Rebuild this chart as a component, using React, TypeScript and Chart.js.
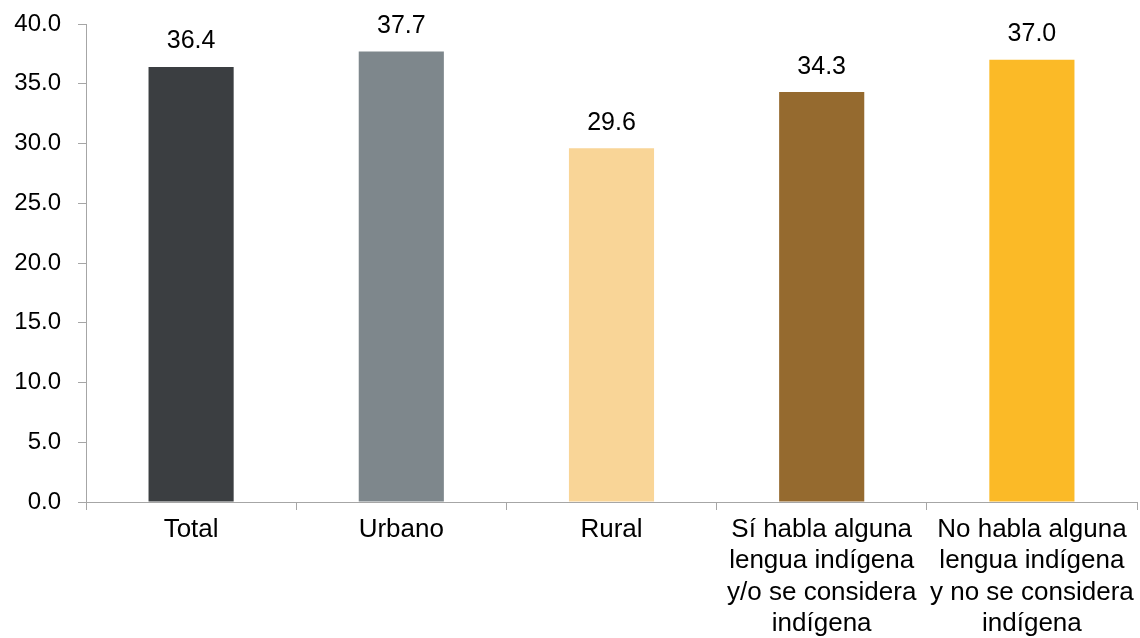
import React, { useEffect, useRef } from "react";
import { Chart, registerables } from "chart.js";

Chart.register(...registerables);

const categories: (string | string[])[] = [
  "Total",
  "Urbano",
  "Rural",
  ["Sí habla alguna", "lengua indígena", "y/o se considera", "indígena"],
  ["No habla alguna", "lengua indígena", "y no se considera", "indígena"],
];
const values = [36.4, 37.7, 29.6, 34.3, 37.0];
const barColors = ["#3B3E41", "#7E878C", "#F9D597", "#956A2F", "#FBBA27"];
const yTicks = [0, 5, 10, 15, 20, 25, 30, 35, 40];

const FONT = "'Liberation Sans', Arial, sans-serif";

const valueLabels = {
  id: "valueLabels",
  afterDatasetsDraw(chart: any) {
    const ctx = chart.ctx;
    const meta = chart.getDatasetMeta(0);
    ctx.save();
    ctx.font = `25px ${FONT}`;
    ctx.fillStyle = "#000";
    ctx.textAlign = "center";
    ctx.textBaseline = "bottom";
    meta.data.forEach((bar: any, i: number) => {
      ctx.fillText(values[i].toFixed(1), bar.x, bar.y - 13);
    });
    ctx.restore();
  },
};

export default function App() {
  const ref = useRef<HTMLCanvasElement>(null);
  useEffect(() => {
    document.body.style.margin = "0";
    const chart = new Chart(ref.current!, {
      type: "bar",
      data: {
        labels: categories,
        datasets: [
          {
            data: values,
            backgroundColor: barColors,
            barPercentage: 0.405,
            categoryPercentage: 1,
          },
        ],
      },
      options: {
        animation: false,
        responsive: false,
        layout: { padding: { top: 24, right: 3, left: 0, bottom: 0 } },
        plugins: {
          legend: { display: false },
          tooltip: { enabled: false },
          title: { display: false },
        },
        scales: {
          x: {
            offset: true,
            grid: {
              offset: true,
              drawOnChartArea: false,
              drawTicks: true,
              tickLength: 8,
              color: "#A6A6A6",
            },
            border: { display: true, color: "#A6A6A6", width: 1 },
            ticks: {
              color: "#000",
              font: { family: FONT, size: 26, lineHeight: 1.21 },
              padding: 4,
              maxRotation: 0,
              autoSkip: false,
            },
            afterFit(scale: any) {
              scale.height = 136;
            },
          },
          y: {
            min: 0,
            max: 40,
            afterBuildTicks(scale: any) {
              scale.ticks = yTicks.map((v) => ({ value: v }));
            },
            grid: {
              drawOnChartArea: false,
              drawTicks: true,
              tickLength: 8,
              color: "#A6A6A6",
            },
            border: { display: true, color: "#A6A6A6", width: 1 },
            ticks: {
              color: "#000",
              font: { family: FONT, size: 24 },
              padding: 17,
              callback: (v: any) => Number(v).toFixed(1),
            },
            afterFit(scale: any) {
              scale.width = 86;
              scale.paddingTop = 0;
              scale.paddingBottom = 0;
            },
          },
        },
      },
      plugins: [valueLabels],
    });
    return () => chart.destroy();
  }, []);
  return (
    <div style={{ width: 1140, height: 638 }}>
      <canvas ref={ref} width={1140} height={638} style={{ display: "block" }} />
    </div>
  );
}
